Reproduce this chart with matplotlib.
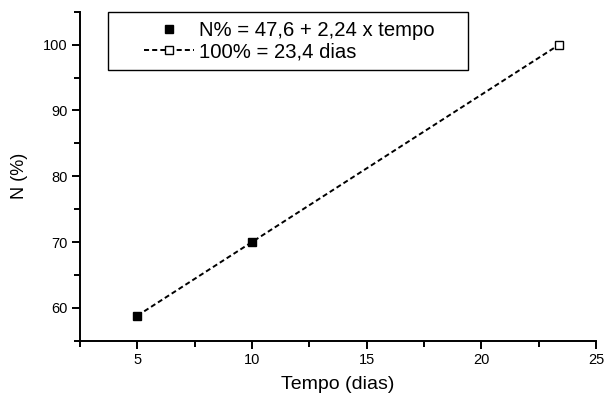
import matplotlib
matplotlib.use('Agg')
import matplotlib.pyplot as plt
from matplotlib.patches import Rectangle

plt.rcParams['font.family'] = ['Liberation Sans', 'DejaVu Sans']

# dados medidos
tempo = [5, 10]
N_pct = [58.8, 70.0]

# reta ajustada: N% = 47,6 + 2,24 x tempo, 100% em 23,4 dias
tempo_ajuste = [5, 23.4]
N_ajuste = [58.8, 100.0]

W, H = 606, 395
fig = plt.figure(figsize=(W/100, H/100), dpi=100)
ax = fig.add_axes([80/W, 1 - 340.7/H, (596-80)/W, (340.7-11.7)/H])

dash = (0, (2.6, 1.6))
ax.plot(tempo_ajuste, N_ajuste, ls=dash, color='black', lw=1.4,
        marker='s', markevery=[1], mfc='white', mec='black', ms=5.5, mew=1.0,
        label='100% = 23,4 dias')
ax.plot(tempo, N_pct, ls='none', marker='s', color='black', ms=6,
        label='N% = 47,6 + 2,24 x tempo')

ax.set_xlim(2.5, 25)
ax.set_ylim(55, 105)
ax.set_xticks([5, 10, 15, 20, 25])
ax.set_xticks([2.5, 7.5, 12.5, 17.5, 22.5], minor=True)
ax.set_yticks([60, 70, 80, 90, 100])
ax.set_yticks([55, 65, 75, 85, 95, 105], minor=True)

for s in ['top', 'right']:
    ax.spines[s].set_visible(False)
for s in ['left', 'bottom']:
    ax.spines[s].set_linewidth(1.4)
ax.tick_params(which='major', direction='out', length=6, width=1.4, labelsize=10.5, pad=3)
ax.tick_params(which='minor', direction='out', length=4, width=1.4)

ax.set_xlabel('Tempo (dias)', fontsize=14, labelpad=6)
ax.set_ylabel('N (%)', fontsize=13, labelpad=11)

# legenda (sem moldura) + moldura desenhada à parte
h, l = ax.get_legend_handles_labels()
leg = fig.legend(h[::-1], l[::-1], loc='upper left',
                 bbox_to_anchor=(144/W, 1 - 21/H),
                 fontsize=14.6, frameon=False, borderpad=0, labelspacing=0.1,
                 handlelength=2.45, handletextpad=0.25, borderaxespad=0)
fig.patches.append(Rectangle((108/W, 1 - 70/H), (468-108)/W, (70-11.7)/H,
                             transform=fig.transFigure, fill=False,
                             edgecolor='black', lw=1.0))

fig.savefig('out.png', dpi=100)
